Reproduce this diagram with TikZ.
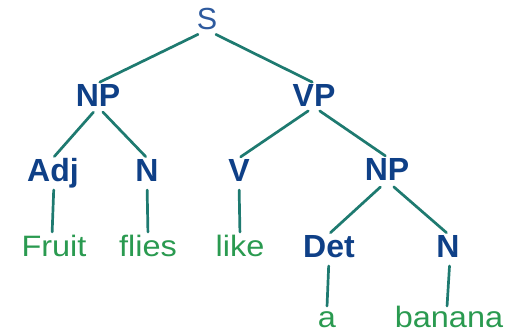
\documentclass[tikz,border=0pt]{standalone}
\usepackage{fontspec}
\setmainfont{Liberation Sans}
\newfontfamily\leaffont[FakeStretch=1.1]{Liberation Sans}
\definecolor{catblue}{HTML}{0F4087}
\definecolor{sblue}{HTML}{2E5A9E}
\definecolor{leafgreen}{HTML}{2A9A50}
\definecolor{edgeteal}{HTML}{1E7A70}
\begin{document}
\begin{tikzpicture}[x=1pt,y=-1pt,
  cat/.style={inner sep=0pt,outer sep=0pt,anchor=base,text=catblue,
    font=\fontsize{32}{32}\selectfont\bfseries,text height=24pt,text depth=0pt},
  root/.style={inner sep=0pt,outer sep=0pt,anchor=base,text=sblue,
    font=\fontsize{30.5}{30.5}\selectfont,text height=22pt,text depth=0pt},
  leaf/.style={inner sep=0pt,outer sep=0pt,anchor=base,text=leafgreen,
    font=\leaffont\fontsize{29.5}{29.5}\selectfont,text height=21pt,text depth=0pt},
  edge/.style={draw=edgeteal,line width=2.7pt,line cap=round,shorten <=8pt,shorten >=2pt},
  lexedge/.style={draw=edgeteal,line width=2.7pt,line cap=round,shorten <=8pt,shorten >=4pt}]
\useasboundingbox (0,0) rectangle (515,336);
\node[root] (S) at (207,30) {S};
\node[cat] (NP) at (98,107) {NP};
\node[cat] (VP) at (314,107) {VP};
\node[cat] (Adj) at (53,182) {Adj};
\node[cat] (N) at (147,182) {N};
\node[cat] (V) at (239,182) {V};
\node[cat] (NPb) at (387,181) {NP};
\node[cat] (Det) at (329,258) {Det};
\node[cat] (Nb) at (448,258) {N};
\node[leaf] (fruit) at (54,257) {Fruit};
\node[leaf] (flies) at (148,257) {flies};
\node[leaf] (like) at (240,257) {like};
\node[leaf] (a) at (327,328) {a};
\node[leaf] (banana) at (449,328) {banana};
\draw[edge,shorten <=10pt] (S.south) -- (NP.north);
\draw[edge,shorten <=10pt] (S.south) -- (VP.north);
\draw[edge,shorten <=7pt] (NP.south) -- (Adj.north);
\draw[edge,shorten <=7pt] (NP.south) -- (N.north);
\draw[edge,shorten <=7pt] (VP.south) -- (V.north);
\draw[edge,shorten <=7pt] (VP.south) -- (NPb.north);
\draw[edge,shorten <=9pt] (NPb.south) -- (Det.north);
\draw[edge,shorten <=9pt] (NPb.south) -- (Nb.north);
\draw[lexedge] ([xshift=1pt]Adj.south) -- ([xshift=-2pt]fruit.north);
\draw[lexedge] (N.south) -- (flies.north);
\draw[lexedge] (V.south) -- (like.north);
\draw[lexedge,shorten >=1pt] (Det.south) -- (a.north);
\draw[lexedge,shorten >=1pt] ([xshift=2pt]Nb.south) -- ([xshift=-2pt]banana.north);
\end{tikzpicture}
\end{document}
